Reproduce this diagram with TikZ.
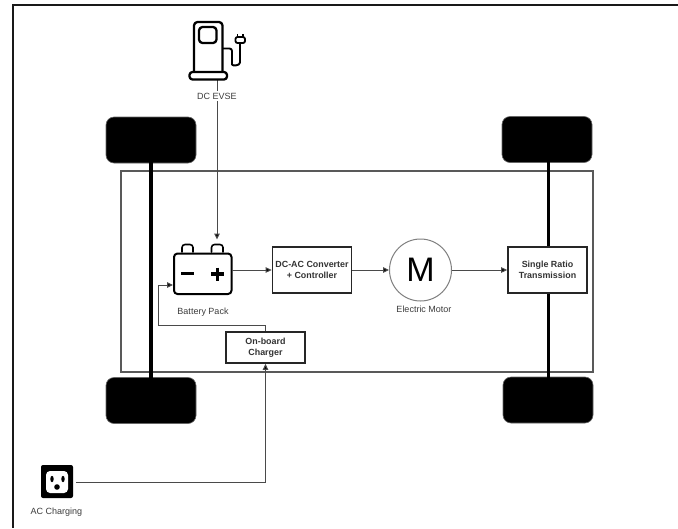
\documentclass[tikz,border=0pt]{standalone}
\usepackage{fontspec}
\setmainfont{Liberation Sans}
\usetikzlibrary{arrows.meta}
\definecolor{txt}{HTML}{3C3C3C}
\definecolor{linec}{HTML}{4A4A4A}
\tikzset{
 x=1pt,y=-1pt,
 frame/.style={line width=2pt,draw=black!90},
 tyre/.style={rounded corners=8pt,fill=black,draw=black!60,line width=.6pt},
 axle/.style={line width=3.8pt,black},
 box/.style={draw=black!85,line width=1.7pt,fill=white,align=center,font=\fontsize{8.9}{11}\selectfont\bfseries,text=black!80,inner sep=0pt},
 lab/.style={font=\fontsize{9}{10}\selectfont,text=txt,inner sep=1pt},
 conn/.style={draw=linec,line width=1pt,-{Triangle[length=6pt,width=5.5pt,fill=black]}},
 icon/.style={draw=black,line width=2.3pt,line join=round,line cap=round},
}
\begin{document}
\begin{tikzpicture}
\useasboundingbox (0,0) rectangle (678,528);
\fill[white] (0,0) rectangle (678,528);
% outer frame
\draw[frame] (678,4.7) -- (12.7,4.7) -- (12.7,528);
% chassis
\node[draw=black!65,line width=1.5pt,minimum width=472pt,minimum height=201pt,inner sep=0pt] (chassis) at (357,271.5) {};
% tyres
\node[tyre,minimum width=90pt,minimum height=46pt] (tl) at (151,140) {};
\node[tyre,minimum width=90pt,minimum height=46pt] (tr) at (547,139.5) {};
\node[tyre,minimum width=90pt,minimum height=46pt] (bl) at (151,400.5) {};
\node[tyre,minimum width=90pt,minimum height=46pt] (br) at (548,400) {};
\draw[axle] (tl.center) -- (bl.center);
\draw[axle] (548.5,140) -- (548.5,400);
% connectors under the icons
\coordinate (evse) at (217,80);
\coordinate (batTop) at (217,239.5);
\coordinate (batRight) at (232,270);
\coordinate (batLeft) at (173,285);
\draw[conn] (evse) -- (batTop);
% battery icon
\draw[icon,fill=white,line width=2pt,rounded corners=3.5pt] (174,253.5) rectangle (231.5,294);
\draw[icon,line width=1.6pt,rounded corners=3pt] (182,252) -- (182,244.5) -- (193,244.5) -- (193,252);
\draw[icon,line width=1.6pt,rounded corners=3pt] (211.5,252) -- (211.5,244.5) -- (223,244.5) -- (223,252);
\draw[icon,line width=3.2pt,line cap=butt] (181,273.5) -- (194,273.5);
\draw[icon,line width=3.2pt,line cap=butt] (211,274) -- (224,274) (217.5,267.5) -- (217.5,280.5);
\node[lab] (batlab) at (203,312) {Battery Pack};
% boxes
\node[box,minimum width=79pt,minimum height=46pt] (conv) at (312,270) {DC-AC Converter\\+ Controller};
\node[box,minimum width=79pt,minimum height=31pt] (chg) at (265.5,347.5) {On-board\\Charger};
\node[box,minimum width=79pt,minimum height=46pt] (trans) at (547.5,270) {Single Ratio\\Transmission};
% motor
\node[circle,draw=black!50,line width=1pt,fill=white,minimum size=62pt,inner sep=0pt,font=\fontsize{34}{34}\selectfont,text=black] (motor) at (420.5,270) {M};
\node[lab] (motlab) at (424,309) {Electric Motor};
% EVSE icon
\draw[icon,rounded corners=3.5pt] (194,71) -- (194,22) -- (222.5,22) -- (222.5,71);
\draw[icon,rounded corners=3.5pt] (199,27) rectangle (216.5,43);
\draw[icon,rounded corners=3pt] (189.5,72) rectangle (227,79.5);
\draw[icon,line width=1.9pt,rounded corners=2.5pt] (223,48.5) -- (232,48.5) -- (232,62) .. controls (232,66) and (240,66) .. (240,60) -- (240,44);
\draw[icon,line width=1.8pt,fill=white,rounded corners=2pt] (235.5,37) rectangle (245,43);
\draw[icon,line width=1.5pt,line cap=butt] (237.5,37) -- (237.5,33.5) (243,37) -- (243,33.5);
\node[lab,fill=white,inner ysep=2pt] (dclab) at (217,96) {DC EVSE};
% AC outlet
\node[rounded corners=2pt,fill=black,minimum width=32pt,minimum height=33pt,inner sep=0pt] (ac) at (57,481.5) {};
\fill[white,rounded corners=4pt] (46,471) rectangle (68,493);
\fill[black] (52,479) ellipse (1.7pt and 3.2pt);
\fill[black] (63,479) ellipse (1.7pt and 3.2pt);
\fill[black] (57,487) circle (2.8pt);
\node[lab] (aclab) at (56.5,512) {AC Charging};
% connectors
\draw[conn] (batRight) -- (conv.west |- batRight);
\draw[conn] (conv.east) -- (motor.west);
\draw[conn] (motor.east) -- (trans.west);
\draw[conn] (chg.north) -- (chg.north |- 0,325) -| (158,285) -- (batLeft);
\draw[conn] (76,482) -| (chg.south);
\end{tikzpicture}
\end{document}
